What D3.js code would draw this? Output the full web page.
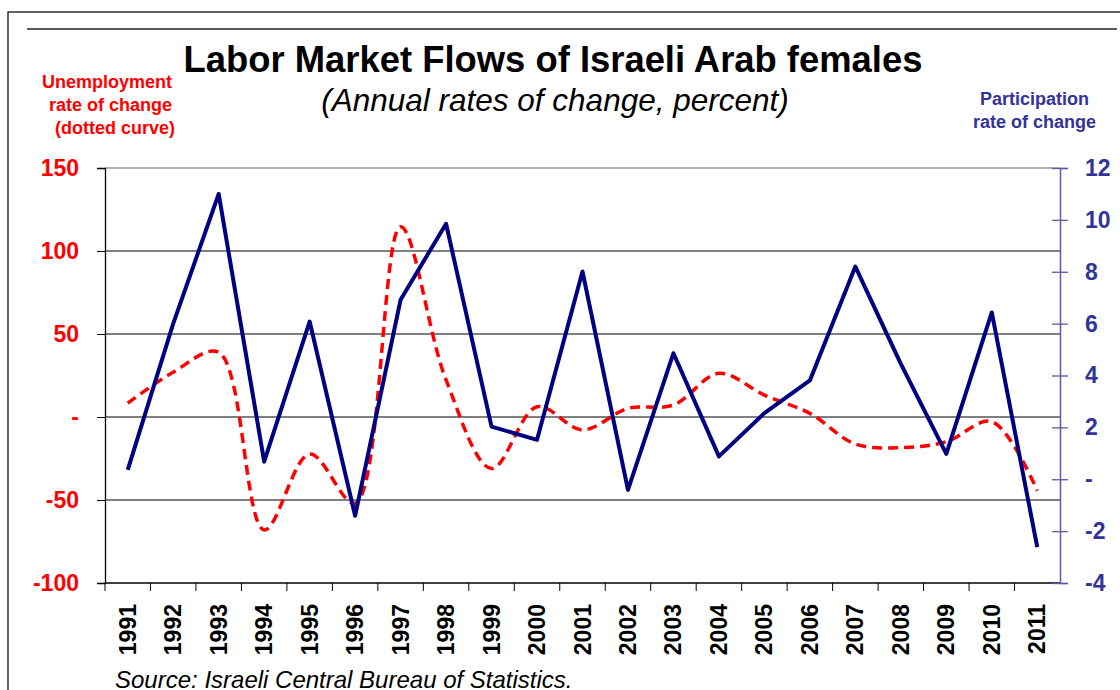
<!DOCTYPE html>
<html lang="en">
<head>
    <meta charset="UTF-8">
    <title>Labor Market Flows of Israeli Arab females</title>
    <script src="https://d3js.org/d3.v7.min.js"></script>
    <style>
        body {
            margin: 0;
            background: #fff;
            font-family: "Liberation Sans", Arial, sans-serif;
        }
    </style>
</head>
<body>
    <div id="chart"></div>

    <script>
        // Data
        const years = ["1991", "1992", "1993", "1994", "1995", "1996", "1997", "1998", "1999", "2000", "2001",
                       "2002", "2003", "2004", "2005", "2006", "2007", "2008", "2009", "2010", "2011"];
        // unemployment rate of change (left axis, dotted curve)
        const unemployment = [8.3, 27, 39, -68, -22.3, -52, 114.6, 22.3, -31, 6.2, -7.8,
                              5.2, 7.2, 26.3, 13.2, 2.2, -16.3, -18.5, -14.9, -2.8, -44.4];
        // participation rate of change (right axis)
        const participation = [0.36, 6.0, 11.0, 0.68, 6.08, -1.41, 6.92, 9.85, 2.03, 1.52, 8.01,
                               -0.41, 4.86, 0.88, 2.55, 3.81, 8.2, 4.45, 0.98, 6.43, -2.62];
        const leftTicks = [150, 100, 50, 0, -50, -100];
        const rightTicks = [12, 10, 8, 6, 4, 2, 0, -2, -4];

        const W = 1120, H = 690;
        const plot = { left: 105, right: 1060, top: 168, bottom: 583 };

        const svg = d3.select("#chart").append("svg")
            .attr("width", W)
            .attr("height", H);

        // frame lines at the top (page is cropped)
        svg.append("rect")
            .attr("x", 8).attr("y", 12)
            .attr("width", W + 10).attr("height", H + 10)
            .attr("fill", "none").attr("stroke", "#111").attr("stroke-width", 1.3);
        svg.append("line")
            .attr("x1", 27).attr("x2", 1117).attr("y1", 29).attr("y2", 29)
            .attr("stroke", "#222").attr("stroke-width", 1.6);

        // scales
        const x = d3.scaleBand()
            .domain(years)
            .range([plot.left, plot.right]);

        const yL = d3.scaleLinear()
            .domain([-100, 150])
            .range([plot.bottom, plot.top]);

        const yR = d3.scaleLinear()
            .domain([-4, 12])
            .range([plot.bottom, plot.top]);

        // gridlines
        svg.append("g")
            .selectAll("line")
            .data(leftTicks.filter(d => d > -100))
            .enter()
            .append("line")
            .attr("x1", plot.left).attr("x2", plot.right)
            .attr("y1", d => yL(d)).attr("y2", d => yL(d))
            .attr("stroke", d => d === 150 ? "#999" : "#000")
            .attr("stroke-width", d => d === 150 ? 1.5 : 1);

        // left axis
        const fmtL = d => d === 0 ? "-" : d;
        const leftAxis = svg.append("g")
            .attr("transform", `translate(${plot.left},0)`)
            .call(d3.axisLeft(yL).tickValues(leftTicks).tickSize(8).tickPadding(18).tickFormat(fmtL));
        leftAxis.select(".domain").attr("stroke", "#000").attr("stroke-width", 1.3);
        leftAxis.selectAll(".tick line").attr("stroke", "#000");
        leftAxis.selectAll("text")
            .attr("fill", "#ff0000")
            .style("font-family", "'Liberation Sans', Arial, sans-serif")
            .style("font-size", "23px")
            .style("font-weight", "bold");

        // bottom axis ticks at band edges
        svg.append("line")
            .attr("x1", plot.left).attr("x2", plot.right)
            .attr("y1", plot.bottom).attr("y2", plot.bottom)
            .attr("stroke", "#000").attr("stroke-width", 1.3);
        svg.append("g")
            .selectAll("line")
            .data(years)
            .enter()
            .append("line")
            .attr("x1", d => x(d)).attr("x2", d => x(d))
            .attr("y1", plot.bottom).attr("y2", plot.bottom + 8)
            .attr("stroke", "#000");

        // year labels
        svg.append("g")
            .selectAll("text")
            .data(years)
            .enter()
            .append("text")
            .attr("transform", d => `translate(${x(d) + x.bandwidth() / 2 + 8},604) rotate(-90)`)
            .attr("text-anchor", "end")
            .style("font-size", "23px")
            .style("font-weight", "bold")
            .attr("fill", "#000")
            .text(d => d);

        // right axis
        const fmtR = d => d === 0 ? "-" : d;
        const rightAxis = svg.append("g")
            .attr("transform", `translate(${plot.right},0)`)
            .call(d3.axisRight(yR).tickValues(rightTicks).tickSize(8).tickPadding(17).tickFormat(fmtR));
        rightAxis.select(".domain").attr("stroke", "#5a5aa6").attr("stroke-width", 1.5);
        rightAxis.selectAll(".tick line").attr("stroke", "#5a5aa6").attr("x1", -8).attr("stroke-width", 1.3);
        rightAxis.selectAll("text")
            .attr("fill", "#333399")
            .style("font-family", "'Liberation Sans', Arial, sans-serif")
            .style("font-size", "23px")
            .style("font-weight", "bold");

        // unemployment dotted curve
        const redLine = d3.line()
            .x((d, i) => x(years[i]) + x.bandwidth() / 2)
            .y(d => yL(d))
            .curve(d3.curveCatmullRom.alpha(0.5));
        svg.append("path")
            .datum(unemployment)
            .attr("d", redLine)
            .attr("fill", "none")
            .attr("stroke", "#ff0000")
            .attr("stroke-width", 3.5)
            .attr("stroke-dasharray", "10,6");

        // participation line
        const blueLine = d3.line()
            .x((d, i) => x(years[i]) + x.bandwidth() / 2)
            .y(d => yR(d));
        svg.append("path")
            .datum(participation)
            .attr("d", blueLine)
            .attr("fill", "none")
            .attr("stroke", "#000080")
            .attr("stroke-width", 4)
            .attr("stroke-linejoin", "round");

        // titles
        svg.append("text")
            .attr("x", 553).attr("y", 72)
            .attr("text-anchor", "middle")
            .style("font-size", "36.4px")
            .style("font-weight", "bold")
            .text("Labor Market Flows of Israeli Arab females");
        svg.append("text")
            .attr("x", 555).attr("y", 111)
            .attr("text-anchor", "middle")
            .style("font-size", "31.5px")
            .style("font-style", "italic")
            .text("(Annual rates of change, percent)");

        // axis captions
        const redCaption = ["Unemployment", "rate of change", "(dotted curve)"];
        svg.append("g")
            .selectAll("text")
            .data(redCaption)
            .enter()
            .append("text")
            .attr("x", (d, i) => i === 2 ? 175 : 172)
            .attr("y", (d, i) => 88 + i * 23)
            .attr("text-anchor", "end")
            .attr("fill", "#ff0000")
            .style("font-size", "18px")
            .style("font-weight", "bold")
            .text(d => d);

        const blueCaption = ["Participation", "rate of change"];
        svg.append("g")
            .selectAll("text")
            .data(blueCaption)
            .enter()
            .append("text")
            .attr("x", 1034.5)
            .attr("y", (d, i) => 105 + i * 23)
            .attr("text-anchor", "middle")
            .attr("fill", "#333399")
            .style("font-size", "18px")
            .style("font-weight", "bold")
            .text(d => d);

        // source (cropped at the bottom, as in the original)
        svg.append("text")
            .attr("x", 115).attr("y", 688)
            .style("font-size", "24px")
            .style("font-style", "italic")
            .text("Source: Israeli Central Bureau of Statistics.");
    </script>
</body>
</html>
